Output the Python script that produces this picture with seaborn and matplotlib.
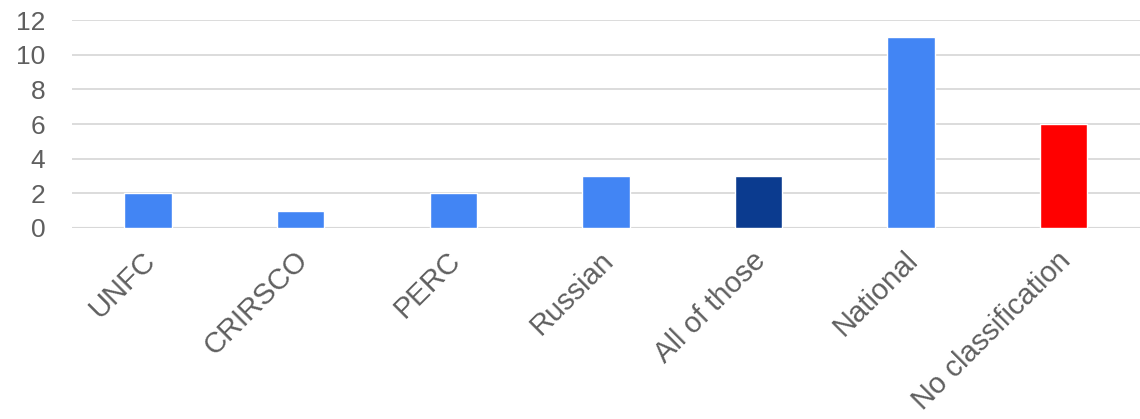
import pandas as pd
import matplotlib.pyplot as plt
import matplotlib.transforms as mtransforms
import seaborn as sns

categories = ["UNFC", "CRIRSCO", "PERC", "Russian", "All of those", "National", "No classification"]
counts = [2, 1, 2, 3, 3, 11, 6]
bar_colors = ["#4285f4", "#4285f4", "#4285f4", "#4285f4", "#0b3b8f", "#4285f4", "#ff0000"]
y_ticks = [0, 2, 4, 6, 8, 10, 12]

df = pd.DataFrame({"classification": categories, "count": counts})

sns.set_style("white")
plt.rcParams['font.family'] = ['Liberation Sans', 'DejaVu Sans']

fig = plt.figure(figsize=(11.4, 4.19), dpi=100)
ax = fig.add_axes([0.063, 0.456, 0.937, 0.496])

sns.barplot(data=df, x="classification", y="count", hue="classification",
            palette=bar_colors, legend=False, width=0.31, saturation=1, ax=ax)

ax.set_ylim(0, 12)
ax.set_xlim(-0.5, len(categories) - 0.5)
ax.set_yticks(y_ticks)
ax.yaxis.grid(True, color="#d9d9d9", linewidth=1.3)
ax.set_axisbelow(True)
for s in ax.spines.values():
    s.set_visible(False)
ax.axhline(0, color="#cfcfcf", linewidth=1.5, zorder=0)

ax.set_xlabel("")
ax.set_ylabel("")
ax.tick_params(axis="both", length=0, labelsize=19, labelcolor="#5f5f5f")
ax.tick_params(axis="y", pad=19)
ax.tick_params(axis="x", pad=13)

# nudge the rotated labels a little to the left
shift = mtransforms.ScaledTranslation(-0.07, 0, fig.dpi_scale_trans)
for lbl in ax.get_xticklabels():
    lbl.set_rotation(45)
    lbl.set_ha("right")
    lbl.set_rotation_mode("anchor")
    lbl.set_fontsize(21)
    lbl.set_transform(lbl.get_transform() + shift)

fig.savefig("out.png", dpi=100)
